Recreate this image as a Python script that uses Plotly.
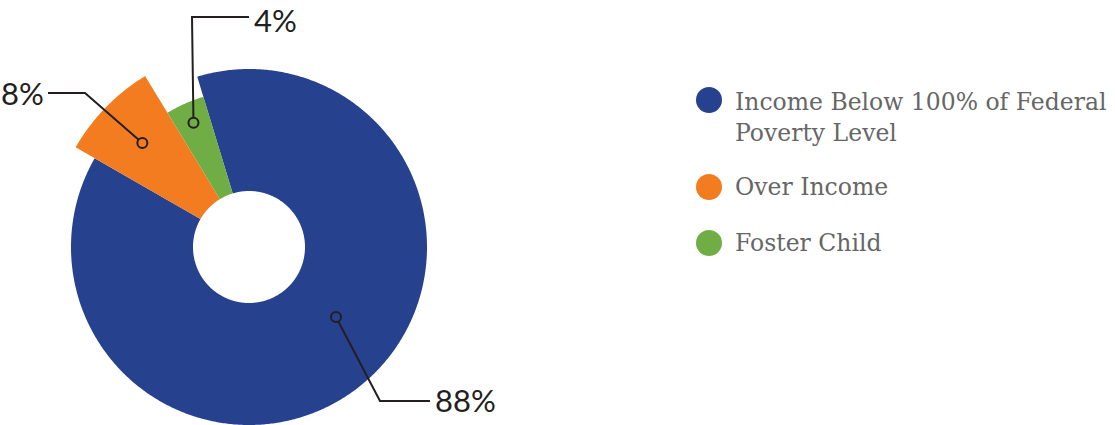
import math
import plotly.graph_objects as go

# ---------------- data ----------------
categories = ["Income Below 100% of Federal Poverty Level", "Over Income", "Foster Child"]
legend_labels = ["Income Below 100% of Federal<br>Poverty Level", "Over Income", "Foster Child"]
values = [88, 8, 4]
value_labels = ["88%", "8%", "4%"]

# ---------------- style / layout ----------------
W, H = 1115, 425
colors = ["#26418E", "#F47C20", "#70AD44"]
slice_radius = [178, 200, 157]          # px, outer radius of each slice
hole_radius = 56                         # px
center = (249, H - 247)                  # px in plot coords (y up)
start_angle = -16.9                      # degrees clockwise from 12 o'clock
dark = "#231F20"

# leader-line geometry (px, y measured from top)
anchors = [(336, 317), None, None]       # blue anchor fixed; others at slice middle
anchor_radius = [None, 149, 136]
leader_paths = [
    [(380, 401), (430, 401)],
    [(85, 93), (48, 93)],
    [(192, 17), (249, 17)],
]
# (x, y-from-top, xanchor, yanchor)
label_pos = [(434, 400, "left", "middle"), (45, 93, "right", "middle"), (253, 0, "left", "top")]

legend_x_circle = 709
legend_x_text = 733
legend_rows = [117, 187, 243]
legend_circle_y = [100, 187, 243]


def pt(theta_deg, r):
    t = math.radians(theta_deg)
    return center[0] + r * math.sin(t), center[1] + r * math.cos(t)


fig = go.Figure()

total = sum(values)
angle = start_angle
mids = []
for i, v in enumerate(values):
    sweep = v / total * 360.0
    a0, a1 = angle, angle + sweep
    n = max(8, int(sweep * 2))
    xs, ys = [], []
    for k in range(n + 1):
        x, y = pt(a0 + (a1 - a0) * k / n, slice_radius[i])
        xs.append(x); ys.append(y)
    for k in range(n, -1, -1):
        x, y = pt(a0 + (a1 - a0) * k / n, hole_radius)
        xs.append(x); ys.append(y)
    xs.append(xs[0]); ys.append(ys[0])
    fig.add_trace(go.Scatter(x=xs, y=ys, fill="toself", fillcolor=colors[i],
                             mode="none", name=categories[i], hoverinfo="name",
                             showlegend=False))
    mids.append((a0 + a1) / 2)
    angle = a1

# leader lines + anchors
for i in range(len(values)):
    if anchors[i] is not None:
        ax, ay = anchors[i][0], H - anchors[i][1]
    else:
        ax, ay = pt(mids[i], anchor_radius[i])
    px = [ax] + [p[0] for p in leader_paths[i]]
    py = [ay] + [H - p[1] for p in leader_paths[i]]
    fig.add_trace(go.Scatter(x=px, y=py, mode="lines",
                             line=dict(color=dark, width=2), hoverinfo="skip",
                             showlegend=False))
    fig.add_trace(go.Scatter(x=[ax], y=[ay], mode="markers",
                             marker=dict(size=10, color=colors[i],
                                         line=dict(color=dark, width=2)),
                             hoverinfo="skip", showlegend=False))
    lx, ly, xanc, yanc = label_pos[i]
    fig.add_annotation(x=lx, y=H - ly, text=value_labels[i], showarrow=False,
                       xanchor=xanc, yanchor=yanc, borderpad=0,
                       font=dict(family="Lato", size=31, color=dark))

# legend
fig.add_trace(go.Scatter(x=[legend_x_circle] * 3, y=[H - y for y in legend_circle_y],
                         mode="markers", marker=dict(size=26, color=colors),
                         hoverinfo="skip", showlegend=False))
for i, lab in enumerate(legend_labels):
    fig.add_annotation(x=legend_x_text, y=H - legend_rows[i], text=lab,
                       showarrow=False, xanchor="left", yanchor="middle", align="left",
                       font=dict(family="DejaVu Serif", size=23.5, color="#666666"))

fig.update_layout(
    width=W, height=H, margin=dict(l=0, r=0, t=0, b=0),
    paper_bgcolor="white", plot_bgcolor="white",
    xaxis=dict(range=[0, W], visible=False, fixedrange=True),
    yaxis=dict(range=[0, H], visible=False, fixedrange=True),
    showlegend=False,
)

fig.write_html("out.html")
